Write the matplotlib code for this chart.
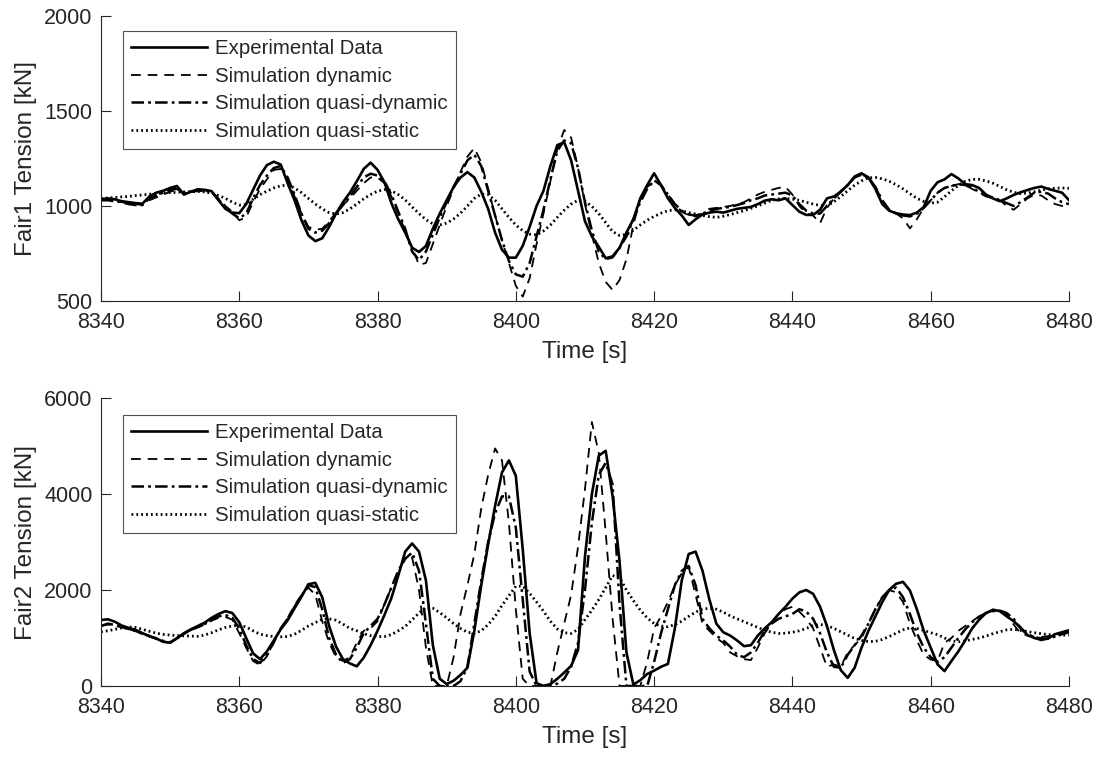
import matplotlib
matplotlib.use('Agg')
import matplotlib.pyplot as plt
import numpy as np

# time axis, one sample per second
time = list(range(8340, 8481))

# Fair1 tension [kN]
fair1_exp = [1035, 1040, 1035, 1025, 1020, 1015, 1012, 1050, 1070, 1080,
             1095, 1105, 1060, 1075, 1088, 1085, 1078, 1030, 985, 965,
             962, 1010, 1085, 1160, 1215, 1233, 1218, 1120, 1030, 925,
             845, 815, 830, 890, 960, 1020, 1070, 1130, 1195, 1228,
             1190, 1125, 1015, 930, 860, 780, 758, 790, 880, 960,
             1030, 1100, 1150, 1178, 1150, 1075, 985, 860, 770, 728,
             728, 790, 890, 1000, 1080, 1210, 1320, 1335, 1240, 1080,
             920, 840, 785, 725, 735, 780, 860, 930, 1040, 1110,
             1172, 1110, 1040, 990, 950, 900, 930, 955, 965, 970,
             965, 975, 985, 990, 995, 1010, 1028, 1035, 1030, 1040,
             1005, 970, 953, 953, 980, 1040, 1050, 1075, 1110, 1155,
             1172, 1150, 1090, 1010, 975, 962, 955, 952, 965, 995,
             1080, 1125, 1140, 1168, 1145, 1115, 1110, 1095, 1060, 1040,
             1025, 1040, 1058, 1072, 1084, 1095, 1102, 1090, 1080, 1070,
             1031]
fair1_dyn = [1040, 1035, 1030, 1020, 1015, 1010, 1005, 1030, 1045, 1060,
             1075, 1085, 1065, 1070, 1080, 1080, 1075, 1040, 1000, 970,
             925, 940, 1020, 1090, 1140, 1190, 1195, 1140, 1050, 960,
             890, 875, 880, 920, 965, 1005, 1040, 1080, 1120, 1150,
             1150, 1120, 1050, 960, 870, 780, 690, 700, 800, 900,
             1000, 1090, 1180, 1260, 1305, 1230, 1090, 950, 820, 700,
             580, 523, 620, 800, 960, 1130, 1300, 1400, 1360, 1200,
             1010, 850, 700, 600, 558, 610, 720, 900, 1040, 1100,
             1128, 1110, 1060, 1010, 970, 950, 945, 960, 985, 990,
             995, 1000, 1010, 1020, 1040, 1060, 1075, 1085, 1095, 1100,
             1060, 1000, 960, 950, 909, 990, 1040, 1080, 1110, 1150,
             1165, 1150, 1100, 1030, 980, 960, 935, 882, 930, 990,
             1030, 1070, 1095, 1105, 1115, 1110, 1090, 1070, 1050, 1040,
             1030, 1000, 980, 1010, 1040, 1060, 1055, 1030, 1010, 1000,
             1005]
fair1_qdyn = [1030, 1030, 1025, 1020, 1010, 1005, 1005, 1040, 1055, 1070,
              1085, 1090, 1070, 1075, 1080, 1080, 1075, 1035, 990, 960,
              935, 960, 1040, 1110, 1160, 1200, 1210, 1150, 1060, 960,
              880, 860, 870, 910, 960, 1005, 1050, 1100, 1150, 1170,
              1160, 1130, 1060, 970, 880, 760, 716, 760, 850, 940,
              1020, 1100, 1170, 1240, 1270, 1210, 1080, 950, 820, 710,
              640, 628, 700, 840, 980, 1140, 1290, 1345, 1330, 1200,
              1020, 870, 760, 720, 730, 780, 840, 930, 1020, 1090,
              1135, 1110, 1060, 1010, 975, 955, 950, 960, 975, 985,
              990, 995, 1005, 1015, 1030, 1040, 1055, 1060, 1065, 1070,
              1055, 1010, 975, 960, 960, 1000, 1040, 1075, 1110, 1150,
              1165, 1150, 1100, 1030, 980, 960, 950, 945, 960, 990,
              1030, 1070, 1095, 1105, 1115, 1110, 1095, 1075, 1055, 1045,
              1030, 1015, 1000, 1020, 1045, 1070, 1075, 1065, 1040, 1020,
              1010]
fair1_qsta = [1040, 1042, 1045, 1048, 1050, 1055, 1058, 1062, 1065, 1068,
              1070, 1072, 1074, 1075, 1076, 1074, 1067, 1055, 1040, 1020,
              1005, 1008, 1035, 1060, 1078, 1095, 1106, 1110, 1095, 1070,
              1040, 1010, 985, 965, 958, 965, 985, 1010, 1038, 1060,
              1078, 1086, 1080, 1060, 1032, 995, 960, 928, 906, 900,
              910, 932, 962, 1000, 1040, 1062, 1060, 1030, 985, 940,
              900, 870, 852, 848, 868, 900, 940, 978, 1010, 1030,
              1025, 998, 960, 912, 865, 845, 850, 872, 900, 925,
              945, 962, 975, 980, 975, 965, 958, 950, 944, 940,
              946, 955, 965, 975, 988, 1000, 1015, 1030, 1037, 1040,
              1036, 1030, 1020, 1010, 1003, 1000, 1022, 1050, 1080, 1110,
              1132, 1148, 1150, 1143, 1130, 1112, 1090, 1065, 1040, 1024,
              1015, 1020, 1048, 1080, 1108, 1130, 1140, 1140, 1132, 1120,
              1103, 1085, 1072, 1065, 1068, 1075, 1083, 1090, 1093, 1095,
              1093]

# Fair2 tension [kN]
fair2_exp = [1375, 1390, 1340, 1260, 1210, 1170, 1100, 1040, 990, 920,
             900, 1000, 1100, 1180, 1250, 1320, 1420, 1500, 1560, 1520,
             1330, 1000, 680, 560, 720, 950, 1180, 1370, 1620, 1860,
             2120, 2150, 1850, 1250, 820, 560, 470, 410, 590, 850,
             1150, 1480, 1830, 2300, 2800, 2970, 2800, 2200, 850, 150,
             40, 110, 230, 380, 1150, 2100, 2950, 3750, 4450, 4700,
             4380, 2850, 1100, 60, 0, 40, 150, 280, 420, 750,
             2700, 4000, 4800, 4900, 3950, 2600, 700, 30, 120, 250,
             320, 400, 460, 1200, 2200, 2750, 2800, 2400, 1800, 1300,
             1120, 1050, 950, 830, 850, 1050, 1200, 1330, 1500, 1650,
             1820, 1950, 2000, 1920, 1650, 1250, 750, 330, 170, 380,
             800, 1150, 1450, 1750, 2000, 2130, 2170, 1990, 1600, 1150,
             800, 450, 310, 520, 720, 950, 1200, 1380, 1520, 1590,
             1560, 1450, 1350, 1220, 1060, 1000, 960, 990, 1080, 1120,
             1160]
fair2_dyn = [1250, 1280, 1260, 1220, 1180, 1140, 1080, 1030, 980, 930,
             910, 990, 1080, 1160, 1220, 1280, 1360, 1420, 1440, 1380,
             1100, 800, 520, 440, 620, 900, 1200, 1420, 1680, 1900,
             2050, 1900, 1350, 900, 600, 520, 600, 900, 1150, 1200,
             1350, 1700, 2050, 2400, 2650, 2680, 2000, 800, 0, 0,
             0, 600, 1500, 2100, 2750, 3700, 4400, 4950, 4700, 3400,
             1600, 150, 0, 0, 0, 0, 700, 1300, 1900, 2900,
             4100, 5500, 4850, 3200, 1400, 0, 0, 0, 0, 500,
             1200, 1450, 1750, 2100, 2350, 2480, 1900, 1300, 1150, 1000,
             900, 700, 620, 560, 540, 800, 1100, 1300, 1500, 1600,
             1650, 1550, 1400, 1200, 800, 400, 450, 400, 700, 850,
             1000, 1300, 1600, 1850, 2000, 1950, 1750, 1300, 950, 650,
             550, 520, 900, 1000, 1150, 1250, 1350, 1450, 1530, 1560,
             1590, 1500, 1280, 1100, 1050, 1030, 1020, 1040, 1060, 1100,
             1150]
fair2_qdyn = [1250, 1300, 1270, 1230, 1190, 1150, 1090, 1040, 990, 940,
              910, 990, 1090, 1170, 1230, 1290, 1380, 1450, 1480, 1420,
              1200, 850, 560, 480, 650, 920, 1200, 1400, 1650, 1880,
              2100, 2060, 1600, 1000, 650, 480, 560, 800, 1100, 1250,
              1400, 1700, 2050, 2400, 2650, 2780, 2400, 1300, 150, 0,
              0, 0, 100, 400, 1300, 2200, 3000, 3600, 3950, 3950,
              3300, 1800, 300, 0, 0, 0, 50, 150, 400, 900,
              2000, 3400, 4400, 4650, 4200, 1700, 0, 0, 0, 0,
              500, 1100, 1600, 2100, 2400, 2500, 2100, 1400, 1200, 1050,
              950, 820, 650, 600, 700, 900, 1150, 1300, 1400, 1450,
              1500, 1600, 1550, 1400, 1100, 700, 400, 380, 650, 850,
              1050, 1300, 1600, 1850, 2000, 2050, 1850, 1500, 1100, 800,
              600, 500, 600, 800, 1000, 1180, 1330, 1440, 1520, 1560,
              1570, 1520, 1400, 1200, 1080, 1020, 990, 990, 1030, 1080,
              1120]
fair2_qsta = [1130, 1150, 1180, 1210, 1230, 1220, 1180, 1140, 1100, 1075,
              1060, 1050, 1045, 1040, 1035, 1060, 1110, 1170, 1220, 1250,
              1270, 1230, 1150, 1080, 1050, 1030, 1025, 1030, 1080, 1160,
              1250, 1320, 1390, 1400, 1370, 1290, 1200, 1150, 1090, 1050,
              1030, 1030, 1070, 1150, 1240, 1380, 1520, 1640, 1620, 1530,
              1420, 1300, 1200, 1120, 1095, 1150, 1280, 1450, 1680, 1880,
              2080, 2080, 1930, 1750, 1560, 1350, 1190, 1110, 1095, 1180,
              1380, 1580, 1800, 2050, 2300, 2260, 2000, 1780, 1580, 1420,
              1300, 1250, 1235, 1280, 1350, 1450, 1540, 1600, 1620, 1600,
              1540, 1460, 1400, 1340, 1280, 1220, 1160, 1120, 1095, 1100,
              1120, 1150, 1200, 1260, 1280, 1260, 1200, 1130, 1060, 990,
              950, 925, 930, 970, 1030, 1100, 1170, 1210, 1200, 1160,
              1110, 1070, 1000, 940, 920, 940, 970, 1000, 1040, 1090,
              1130, 1170, 1180, 1160, 1135, 1110, 1090, 1070, 1065, 1060,
              1060]

labels = ['Experimental Data', 'Simulation dynamic',
          'Simulation quasi-dynamic', 'Simulation quasi-static']

grey = '#262626'
plt.rcParams['font.family'] = ['Liberation Sans', 'DejaVu Sans']
plt.rcParams['lines.scale_dashes'] = False

styles = [
    dict(color='black', lw=1.9, linestyle='-'),
    dict(color='black', lw=1.3, linestyle=(0, (7, 5))),
    dict(color='black', lw=1.8, linestyle=(0, (9, 3, 2, 3))),
    dict(color='black', lw=2.0, linestyle=(0, (1.3, 2.2))),
]

fig = plt.figure(figsize=(11.01, 7.57), dpi=100)
ax1 = fig.add_axes([0.0917, 0.6024, 0.8792, 0.3765])
ax2 = fig.add_axes([0.0917, 0.0938, 0.8792, 0.3804])

panels = [
    (ax1, [fair1_exp, fair1_dyn, fair1_qdyn, fair1_qsta], (500, 2000),
     [500, 1000, 1500, 2000], 'Fair1 Tension [kN]', 0.947),
    (ax2, [fair2_exp, fair2_dyn, fair2_qdyn, fair2_qsta], (0, 6000),
     [0, 2000, 4000, 6000], 'Fair2 Tension [kN]', 0.941),
]

for ax, series, ylim, yticks, ylabel, leg_y in panels:
    for vals, st, lab in zip(series, styles, labels):
        ax.plot(time, vals, label=lab, **st)
    ax.set_xlim(8340, 8480)
    ax.set_ylim(*ylim)
    ax.set_xticks(range(8340, 8481, 20))
    ax.set_yticks(yticks)
    ax.spines['top'].set_visible(False)
    ax.spines['right'].set_visible(False)
    for s in ['left', 'bottom']:
        ax.spines[s].set_color(grey)
        ax.spines[s].set_linewidth(0.8)
    ax.tick_params(direction='in', length=7, width=0.8, colors=grey,
                   labelsize=15.5)
    ax.tick_params(axis='x', pad=8)
    ax.tick_params(axis='y', pad=6)
    ax.set_xlabel('Time [s]', fontsize=17.5, color=grey, labelpad=6)
    ax.set_ylabel(ylabel, fontsize=17.5, color=grey, labelpad=5)
    leg = ax.legend(loc='upper left', bbox_to_anchor=(0.0227, leg_y),
                    borderaxespad=0, fontsize=14.7, frameon=True, fancybox=False,
                    handlelength=3.7, handletextpad=0.4, borderpad=0.4,
                    labelspacing=0.42)
    leg.get_frame().set_edgecolor(grey)
    leg.get_frame().set_linewidth(0.8)
    for t in leg.get_texts():
        t.set_color(grey)

plt.savefig('out.png', dpi=100)
